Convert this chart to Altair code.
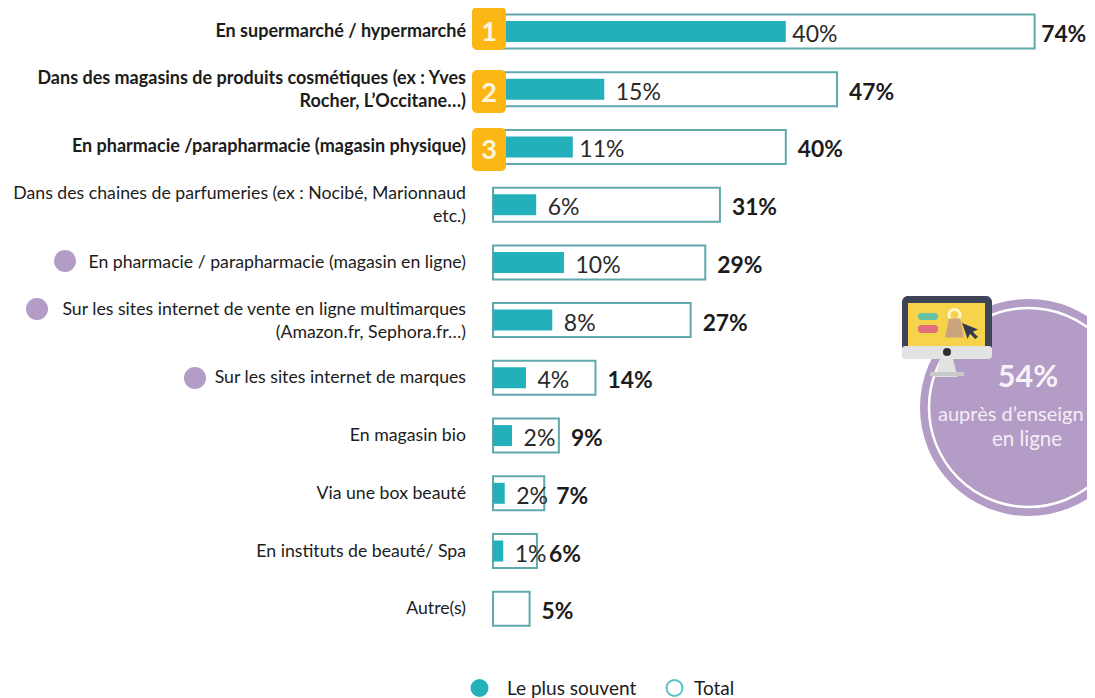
import altair as alt
import pandas as pd

FONT = "Lato"
TEAL = "#23b0bb"
OUTLINE = "#5fa9ad"
PURPLE = "#b39cc5"
AMBER = "#fdb714"
INK = "#1c1c1c"

rows = [
    "En supermarché / hypermarché",
    "Dans des magasins de produits cosmétiques (ex : Yves\nRocher, L’Occitane…)",
    "En pharmacie /parapharmacie (magasin physique)",
    "Dans des chaines de parfumeries (ex : Nocibé, Marionnaud\netc.)",
    "En pharmacie / parapharmacie (magasin en ligne)",
    "Sur les sites internet de vente en ligne multimarques\n(Amazon.fr, Sephora.fr…)",
    "Sur les sites internet de marques",
    "En magasin bio",
    "Via une box beauté",
    "En instituts de beauté/ Spa",
    "Autre(s)",
]
bold_rows = [True, True, True, False, False, False, False, False, False, False, False]
total = [74, 47, 40, 31, 29, 27, 14, 9, 7, 6, 5]
plus_souvent = [40, 15.2, 10.9, 5.9, 9.7, 8.1, 4.5, 2.6, 1.6, 1.4, None]
plus_souvent_labels = ["40%", "15%", "11%", "6%", "10%", "8%", "4%", "2%", "2%", "1%", ""]

df = pd.DataFrame({
    "row": rows,
    "bold": bold_rows,
    "total": total,
    "souvent": plus_souvent,
    "souvent_label": plus_souvent_labels,
    "total_label": [f"{v}%" for v in total],
})

W, H = 1079, 690
xs = alt.Scale(domain=[-66.26, 81.15], zero=False, nice=False)
yscale = alt.Scale(type="band", domain=rows, range=[-5.36, 629.6], paddingInner=0, paddingOuter=0)
Y = alt.Y("row:N", axis=None, sort=rows, scale=yscale)
one = alt.Data(values=[{"a": 0}])
base = alt.Chart(df)


def px(v):
    return alt.value(v - 8)


def box(x1, x2, y1, y2, color, r=0):
    return alt.Chart(one).mark_rect(color=color, cornerRadius=r).encode(
        x=px(x1), x2=px(x2), y=px(y1), y2=px(y2))


def dot(x, y, d, color, filled=True, sw=2, shape="circle"):
    m = alt.Chart(one).mark_point(
        shape=shape, size=d * d, filled=filled, opacity=1,
        **({"fill": color, "strokeWidth": 0} if filled else {"stroke": color, "strokeWidth": sw}))
    return m.encode(x=px(x), y=px(y))


def label(x, y, s, size, color=INK, weight="normal", align="left"):
    return alt.Chart(alt.Data(values=[{"t": s}])).mark_text(
        font=FONT, fontSize=size, color=color, fontWeight=weight, align=align, baseline="middle"
    ).encode(x=px(x), y=px(y), text="t:N")


outline = base.mark_bar(size=34, fill="white", stroke=OUTLINE, strokeWidth=2).encode(
    x=alt.X("total:Q", axis=None, scale=xs), x2=alt.datum(0), y=Y)
fill = base.transform_filter("datum.souvent != null").mark_bar(size=21, color=TEAL).encode(
    x=alt.X("souvent:Q", axis=None, scale=xs), x2=alt.datum(0), y=Y)


def inner(test, gap):
    return base.transform_filter(test).mark_text(
        font=FONT, fontSize=23, color="#2a2a2a", align="left", baseline="middle", dx=gap, dy=3.5
    ).encode(x=alt.X("souvent:Q", axis=None, scale=xs), y=Y, text="souvent_label:N")


tight = "datum.souvent_label == '40%' || datum.souvent_label == '11%'"
inner_tight = inner(tight, 6.5)
inner_wide = inner(f"!({tight}) && datum.souvent != null", 11.5)


def outer(test, gap):
    return base.transform_filter(test).mark_text(
        font=FONT, fontSize=22.8, fontWeight="bold", color=INK, align="left", baseline="middle", dx=gap, dy=3.5
    ).encode(x=alt.X("total:Q", axis=None, scale=xs), y=Y, text="total_label:N")


outer_first = outer("datum.total == 74", 6.5)
outer_rest = outer("datum.total != 74", 12)


def row_labels(is_bold, multi):
    t = f"datum.bold == {str(is_bold).lower()} && {'' if multi else '!'}test(/\\n/, datum.row)"
    return base.transform_filter(t).mark_text(
        font=FONT, fontSize=18 if is_bold else 17.7, color=INK, fontWeight="bold" if is_bold else "normal",
        align="right", baseline="middle", lineBreak="\n", lineHeight=23,
        dx=-27, dy=-10.5 if multi else 0.5
    ).encode(x=alt.datum(0, scale=xs), y=Y, text="row:N")


badges = []
for n, (y1, y2, ty) in enumerate([(7, 50, 33), (70, 113, 94), (128, 171, 151)], start=1):
    badges += [box(472, 506, y1, y2, AMBER, 5), label(489, ty, str(n), 27, "#fff6e0", "bold", "center")]

bag = "M-0.6,-1 L0.6,-1 L1,1 L-1,1 Z"
cursor = "M-1,-1 L1,-0.2 L0.35,0.1 L1,0.75 L0.65,1 L0,0.35 L-0.3,1 Z"
stand = "M-0.5,-1 L0.5,-1 L1,1 L-1,1 Z"

decor = [
    dot(1028.5, 407.5, 217, PURPLE),
    dot(1028.5, 407.5, 199, "white", filled=False, sw=2.5),
    dot(946.5, 366, 22, "#e2e2e2", shape=stand),
    box(930, 964, 372, 376, "#c9c9c9"),
    box(902, 992, 296, 352, "#3e4357", 6),
    box(902, 992, 346, 359, "#e3e3e3", 3),
    box(908, 985, 303, 346, "#f6d34b"),
    box(918, 938, 313, 320, "#66c2a3", 3),
    box(918, 938, 325, 333, "#e06f7c", 3),
    dot(954.5, 315, 11, "#fff7d0", filled=False, sw=3),
    dot(954.5, 328, 19, "#c9a37b", shape=bag),
    dot(970, 331, 16, "#353a4e", shape=cursor),
    dot(947, 352, 8, "#2e2e2e"),
    label(1028, 378, "54%", 30.5, "#f6f2f8", "bold", "center"),
    label(938, 415, "auprès d’enseign", 20, "#f3eef6"),
    label(1027, 440, "en ligne", 20.5, "#f3eef6", "normal", "center"),
    dot(65, 261, 22, PURPLE),
    dot(37, 309, 22, PURPLE),
    dot(195, 378, 22, PURPLE),
    dot(479.5, 688, 18, TEAL),
    dot(674.5, 688, 16, "#57bfc6", filled=False, sw=2),
    label(507, 689, "Le plus souvent", 19),
    label(694, 689, "Total", 19),
]

chart = alt.layer(
    outline, fill, inner_tight, inner_wide, outer_first, outer_rest,
    row_labels(True, False), row_labels(True, True), row_labels(False, False), row_labels(False, True),
    *badges, *decor
).properties(
    width=W, height=H, padding=0, background="white",
    autosize=alt.AutoSizeParams(type="none"),
).configure_view(stroke=None)

chart.save("out.html", embed_options={"renderer": "svg", "actions": False})
